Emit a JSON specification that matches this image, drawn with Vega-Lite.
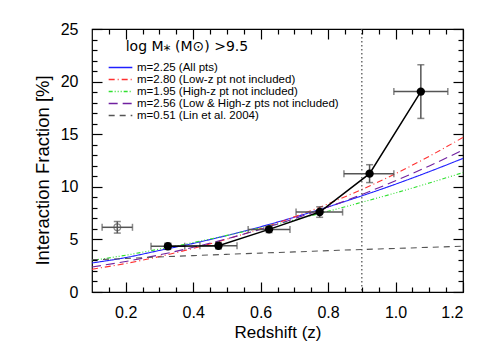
{
  "$schema": "https://vega.github.io/schema/vega-lite/v6.json",
  "width": 371,
  "height": 263,
  "autosize": "none",
  "padding": {"left": 92, "top": 29, "right": 28, "bottom": 58},
  "config": {
    "view": {"stroke": "black", "strokeWidth": 1.2},
    "font": "Liberation Sans",
    "axis": {"grid": false, "domain": false, "labelColor": "black", "titleColor": "black", "labelFontSize": 16, "titleFontSize": 17, "titleFontWeight": "normal"}
  },
  "datasets": {
    "curves": [
      {"z": 0.1, "f": 2.76, "m": "m=2.25 (All pts)"},
      {"z": 0.2, "f": 3.27, "m": "m=2.25 (All pts)"},
      {"z": 0.3, "f": 3.95, "m": "m=2.25 (All pts)"},
      {"z": 0.4, "f": 4.62, "m": "m=2.25 (All pts)"},
      {"z": 0.5, "f": 5.37, "m": "m=2.25 (All pts)"},
      {"z": 0.6, "f": 6.2, "m": "m=2.25 (All pts)"},
      {"z": 0.7, "f": 7.11, "m": "m=2.25 (All pts)"},
      {"z": 0.8, "f": 8.09, "m": "m=2.25 (All pts)"},
      {"z": 0.9, "f": 9.14, "m": "m=2.25 (All pts)"},
      {"z": 1.0, "f": 10.25, "m": "m=2.25 (All pts)"},
      {"z": 1.1, "f": 11.44, "m": "m=2.25 (All pts)"},
      {"z": 1.2, "f": 12.7, "m": "m=2.25 (All pts)"},
      {"z": 0.1, "f": 2.17, "m": "m=2.80 (Low-z pt not included)"},
      {"z": 0.2, "f": 2.71, "m": "m=2.80 (Low-z pt not included)"},
      {"z": 0.3, "f": 3.37, "m": "m=2.80 (Low-z pt not included)"},
      {"z": 0.4, "f": 4.15, "m": "m=2.80 (Low-z pt not included)"},
      {"z": 0.5, "f": 5.03, "m": "m=2.80 (Low-z pt not included)"},
      {"z": 0.6, "f": 6.03, "m": "m=2.80 (Low-z pt not included)"},
      {"z": 0.7, "f": 7.14, "m": "m=2.80 (Low-z pt not included)"},
      {"z": 0.8, "f": 8.38, "m": "m=2.80 (Low-z pt not included)"},
      {"z": 0.9, "f": 9.75, "m": "m=2.80 (Low-z pt not included)"},
      {"z": 1.0, "f": 11.25, "m": "m=2.80 (Low-z pt not included)"},
      {"z": 1.1, "f": 12.9, "m": "m=2.80 (Low-z pt not included)"},
      {"z": 1.2, "f": 14.7, "m": "m=2.80 (Low-z pt not included)"},
      {"z": 0.1, "f": 3.0, "m": "m=1.95 (High-z pt not included)"},
      {"z": 0.2, "f": 3.5, "m": "m=1.95 (High-z pt not included)"},
      {"z": 0.3, "f": 4.08, "m": "m=1.95 (High-z pt not included)"},
      {"z": 0.4, "f": 4.7, "m": "m=1.95 (High-z pt not included)"},
      {"z": 0.5, "f": 5.38, "m": "m=1.95 (High-z pt not included)"},
      {"z": 0.6, "f": 6.1, "m": "m=1.95 (High-z pt not included)"},
      {"z": 0.7, "f": 6.86, "m": "m=1.95 (High-z pt not included)"},
      {"z": 0.8, "f": 7.67, "m": "m=1.95 (High-z pt not included)"},
      {"z": 0.9, "f": 8.53, "m": "m=1.95 (High-z pt not included)"},
      {"z": 1.0, "f": 9.42, "m": "m=1.95 (High-z pt not included)"},
      {"z": 1.1, "f": 10.36, "m": "m=1.95 (High-z pt not included)"},
      {"z": 1.2, "f": 11.35, "m": "m=1.95 (High-z pt not included)"},
      {"z": 0.1, "f": 2.38, "m": "m=2.56 (Low & High-z pts not included)"},
      {"z": 0.2, "f": 2.9, "m": "m=2.56 (Low & High-z pts not included)"},
      {"z": 0.3, "f": 3.53, "m": "m=2.56 (Low & High-z pts not included)"},
      {"z": 0.4, "f": 4.25, "m": "m=2.56 (Low & High-z pts not included)"},
      {"z": 0.5, "f": 5.06, "m": "m=2.56 (Low & High-z pts not included)"},
      {"z": 0.6, "f": 5.97, "m": "m=2.56 (Low & High-z pts not included)"},
      {"z": 0.7, "f": 6.97, "m": "m=2.56 (Low & High-z pts not included)"},
      {"z": 0.8, "f": 8.07, "m": "m=2.56 (Low & High-z pts not included)"},
      {"z": 0.9, "f": 9.27, "m": "m=2.56 (Low & High-z pts not included)"},
      {"z": 1.0, "f": 10.57, "m": "m=2.56 (Low & High-z pts not included)"},
      {"z": 1.1, "f": 11.98, "m": "m=2.56 (Low & High-z pts not included)"},
      {"z": 1.2, "f": 13.5, "m": "m=2.56 (Low & High-z pts not included)"},
      {"z": 0.1, "f": 3.05, "m": "m=0.51 (Lin et al. 2004)"},
      {"z": 0.2, "f": 3.19, "m": "m=0.51 (Lin et al. 2004)"},
      {"z": 0.3, "f": 3.33, "m": "m=0.51 (Lin et al. 2004)"},
      {"z": 0.4, "f": 3.46, "m": "m=0.51 (Lin et al. 2004)"},
      {"z": 0.5, "f": 3.58, "m": "m=0.51 (Lin et al. 2004)"},
      {"z": 0.6, "f": 3.7, "m": "m=0.51 (Lin et al. 2004)"},
      {"z": 0.7, "f": 3.81, "m": "m=0.51 (Lin et al. 2004)"},
      {"z": 0.8, "f": 3.93, "m": "m=0.51 (Lin et al. 2004)"},
      {"z": 0.9, "f": 4.04, "m": "m=0.51 (Lin et al. 2004)"},
      {"z": 1.0, "f": 4.14, "m": "m=0.51 (Lin et al. 2004)"},
      {"z": 1.1, "f": 4.25, "m": "m=0.51 (Lin et al. 2004)"},
      {"z": 1.2, "f": 4.35, "m": "m=0.51 (Lin et al. 2004)"}
    ],
    "points": [
      {"z": 0.175, "f": 6.15, "zlo": 0.13, "zhi": 0.22, "flo": 5.6, "fhi": 6.7, "kind": "open"},
      {"z": 0.325, "f": 4.35, "zlo": 0.275, "zhi": 0.375, "flo": 4.05, "fhi": 4.65, "kind": "filled"},
      {"z": 0.475, "f": 4.4, "zlo": 0.42, "zhi": 0.53, "flo": 4.1, "fhi": 4.7, "kind": "filled"},
      {"z": 0.625, "f": 5.95, "zlo": 0.563, "zhi": 0.687, "flo": 5.65, "fhi": 6.25, "kind": "filled"},
      {"z": 0.775, "f": 7.6, "zlo": 0.705, "zhi": 0.843, "flo": 7.1, "fhi": 8.1, "kind": "filled"},
      {"z": 0.923, "f": 11.25, "zlo": 0.847, "zhi": 0.995, "flo": 10.4, "fhi": 12.1, "kind": "filled"},
      {"z": 1.075, "f": 19.05, "zlo": 0.995, "zhi": 1.155, "flo": 16.5, "fhi": 21.6, "kind": "filled"}
    ],
    "one": [{"z": 0.9, "f": 22.9, "t": "log M⁎ (M⊙) >9.5"}]
  },
  "layer": [
    {
      "data": {"name": "curves"},
      "mark": {"type": "line", "strokeWidth": 1.1, "interpolate": "monotone"},
      "encoding": {
        "x": {"field": "z", "type": "quantitative", "scale": {"domain": [0.1, 1.2], "nice": false, "zero": false},
          "axis": {"orient": "bottom", "values": [0.2, 0.4, 0.6, 0.8, 1.0, 1.2], "format": ".1f", "offset": -10, "ticks": true, "tickSize": 10, "tickColor": "black", "tickOpacity": 1, "tickWidth": 1.2, "zindex": 2, "labelPadding": 12, "title": "Redshift (z)", "titlePadding": 4}},
        "y": {"field": "f", "type": "quantitative", "scale": {"domain": [0, 25], "nice": false, "zero": false},
          "axis": {"orient": "left", "values": [0, 5, 10, 15, 20, 25], "offset": -10, "ticks": true, "tickSize": 10, "tickColor": "black", "tickOpacity": 1, "tickWidth": 1.2, "zindex": 2, "labelPadding": 14, "title": "Interaction Fraction [%]", "titleFontSize": 18.5, "titleY": 141, "titlePadding": 8}},
        "color": {"field": "m", "type": "nominal",
          "scale": {"domain": ["m=2.25 (All pts)", "m=2.80 (Low-z pt not included)", "m=1.95 (High-z pt not included)", "m=2.56 (Low & High-z pts not included)", "m=0.51 (Lin et al. 2004)"],
            "range": ["#2020ff", "#ff3030", "#30e030", "#7020a0", "#555555"]},
          "legend": {"title": null, "orient": "none", "legendX": 16, "legendY": 33, "symbolType": "stroke", "symbolSize": 560, "symbolStrokeWidth": 1.3, "labelFontSize": 11.5, "labelOffset": 4, "labelLimit": 400, "clipHeight": 11, "rowPadding": 0, "padding": 0, "labelColor": "black"}},
        "strokeDash": {"field": "m", "type": "nominal",
          "scale": {"domain": ["m=2.25 (All pts)", "m=2.80 (Low-z pt not included)", "m=1.95 (High-z pt not included)", "m=2.56 (Low & High-z pts not included)", "m=0.51 (Lin et al. 2004)"],
            "range": [[1, 0], [6, 3, 1, 3], [4, 2, 1, 2, 1, 2, 1, 2], [9, 5], [6, 5]]},
          "legend": {"title": null}}
      }
    },
    {
      "data": {"name": "one"},
      "mark": {"type": "rule", "color": "#555555", "strokeDash": [1.5, 2.5], "strokeWidth": 1.3},
      "encoding": {"x": {"field": "z", "type": "quantitative", "axis": null}}
    },
    {
      "data": {"name": "points"},
      "mark": {"type": "errorbar", "ticks": {"size": 7}, "color": "#555555", "thickness": 1.5},
      "encoding": {
        "x": {"field": "zlo", "type": "quantitative", "axis": null},
        "x2": {"field": "zhi"},
        "y": {"field": "f", "type": "quantitative", "axis": null}
      }
    },
    {
      "data": {"name": "points"},
      "mark": {"type": "errorbar", "ticks": {"size": 7}, "color": "#555555", "thickness": 1.5},
      "encoding": {
        "y": {"field": "flo", "type": "quantitative", "axis": null},
        "y2": {"field": "fhi"},
        "x": {"field": "z", "type": "quantitative", "axis": null}
      }
    },
    {
      "data": {"name": "points"},
      "transform": [{"filter": "datum.kind === 'filled'"}],
      "mark": {"type": "line", "color": "black", "strokeWidth": 1.5},
      "encoding": {
        "x": {"field": "z", "type": "quantitative", "axis": {"orient": "top", "values": [0.2, 0.4, 0.6, 0.8, 1.0, 1.2], "offset": -10, "ticks": true, "tickSize": 10, "tickColor": "black", "tickOpacity": 1, "tickWidth": 1.2, "zindex": 2, "labels": false, "title": null}},
        "y": {"field": "f", "type": "quantitative", "axis": {"orient": "right", "values": [0, 5, 10, 15, 20, 25], "offset": -10, "ticks": true, "tickSize": 10, "tickColor": "black", "tickOpacity": 1, "tickWidth": 1.2, "zindex": 2, "labels": false, "title": null}}
      }
    },
    {
      "data": {"name": "points"},
      "transform": [{"filter": "datum.kind === 'filled'"}],
      "mark": {"type": "point", "filled": true, "color": "black", "size": 70, "opacity": 1, "shape": "circle"},
      "encoding": {
        "x": {"field": "z", "type": "quantitative", "axis": {"orient": "bottom", "values": [0.15, 0.25, 0.3, 0.35, 0.45, 0.5, 0.55, 0.65, 0.7, 0.75, 0.85, 0.9, 0.95, 1.05, 1.1, 1.15], "offset": -5, "ticks": true, "tickSize": 5, "tickColor": "black", "tickOpacity": 1, "tickWidth": 1.2, "zindex": 2, "labels": false, "title": null}},
        "y": {"field": "f", "type": "quantitative", "axis": {"orient": "left", "values": [1, 2, 3, 4, 6, 7, 8, 9, 11, 12, 13, 14, 16, 17, 18, 19, 21, 22, 23, 24], "offset": -5, "ticks": true, "tickSize": 5, "tickColor": "black", "tickOpacity": 1, "tickWidth": 1.2, "zindex": 2, "labels": false, "title": null}}
      }
    },
    {
      "data": {"name": "points"},
      "transform": [{"filter": "datum.kind === 'open'"}],
      "mark": {"type": "point", "filled": false, "color": "#555555", "size": 45, "strokeWidth": 1.2, "shape": "circle"},
      "encoding": {
        "x": {"field": "z", "type": "quantitative", "axis": {"orient": "top", "values": [0.15, 0.25, 0.3, 0.35, 0.45, 0.5, 0.55, 0.65, 0.7, 0.75, 0.85, 0.9, 0.95, 1.05, 1.1, 1.15], "offset": -5, "ticks": true, "tickSize": 5, "tickColor": "black", "tickOpacity": 1, "tickWidth": 1.2, "zindex": 2, "labels": false, "title": null}},
        "y": {"field": "f", "type": "quantitative", "axis": {"orient": "right", "values": [1, 2, 3, 4, 6, 7, 8, 9, 11, 12, 13, 14, 16, 17, 18, 19, 21, 22, 23, 24], "offset": -5, "ticks": true, "tickSize": 5, "tickColor": "black", "tickOpacity": 1, "tickWidth": 1.2, "zindex": 2, "labels": false, "title": null}}
      }
    },
    {
      "data": {"name": "one"},
      "mark": {"type": "text", "align": "left", "baseline": "alphabetic", "fontSize": 14, "font": "DejaVu Sans", "color": "black"},
      "encoding": {
        "x": {"datum": 0.2, "type": "quantitative", "axis": null},
        "y": {"field": "f", "type": "quantitative", "axis": null},
        "text": {"field": "t"}
      }
    }
  ],
  "resolve": {"axis": {"x": "independent", "y": "independent"}}
}
